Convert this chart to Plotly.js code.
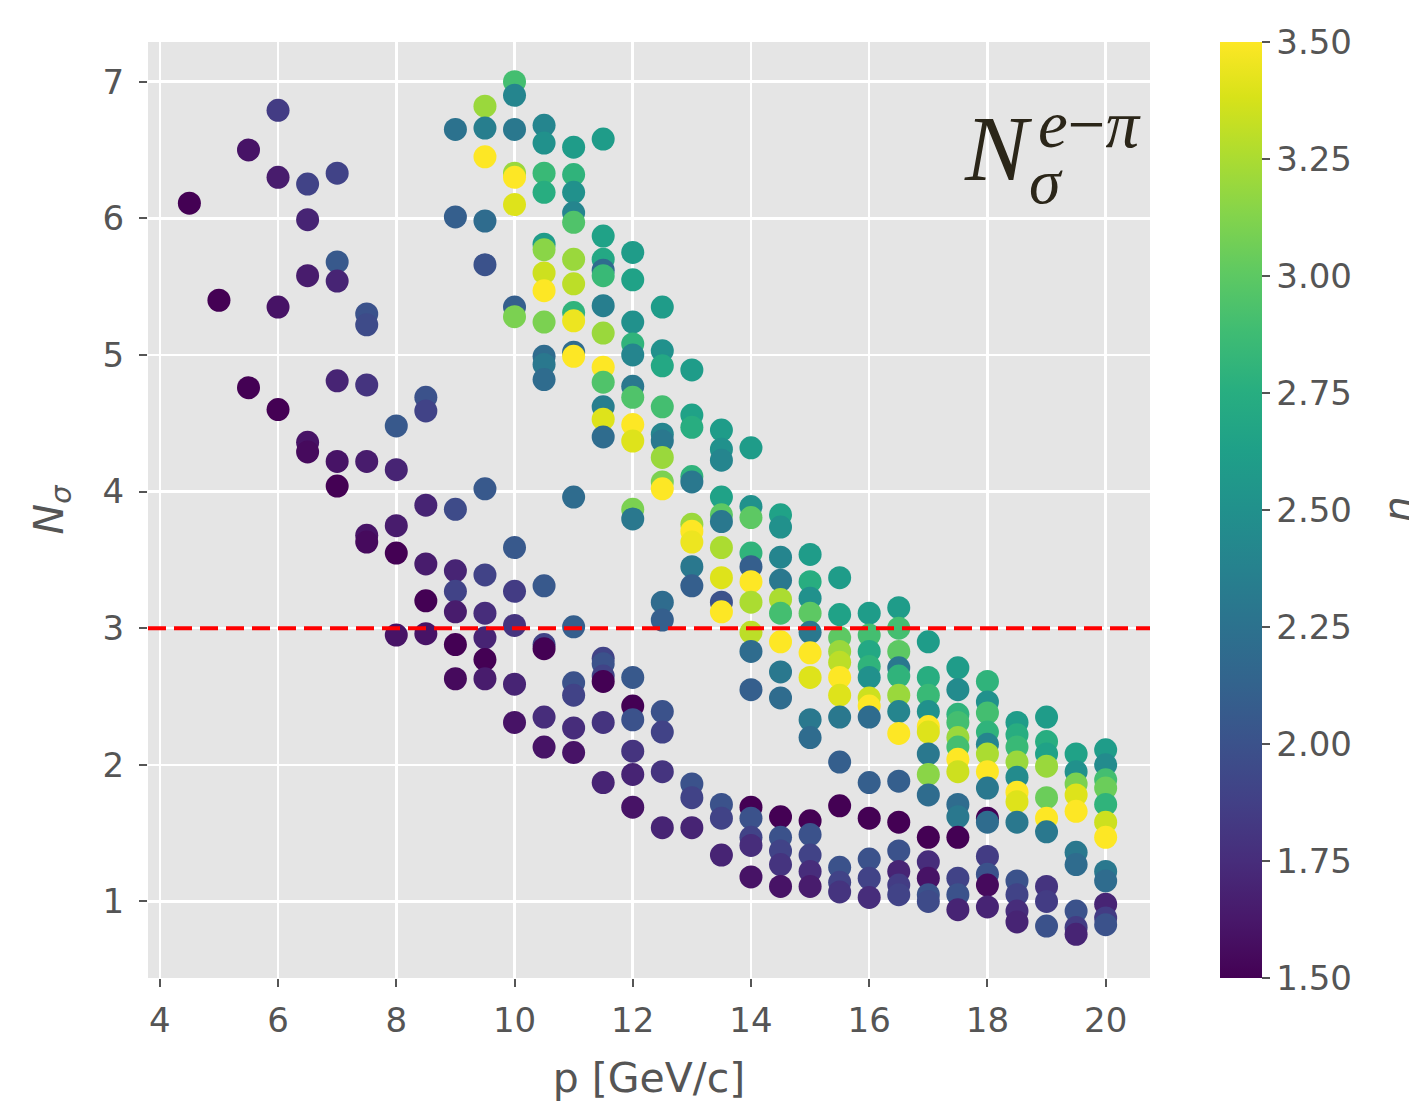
<!DOCTYPE html>
<html>
<head>
<meta charset="utf-8">
<script src="https://cdn.plot.ly/plotly-3.0.1.min.js"></script>
<style>html,body{margin:0;padding:0;background:#fff;}#chart{width:1409px;height:1102px;}</style>
</head>
<body>
<div id="chart"></div>
<script>
// momentum grid (GeV/c)
const pGrid = [4.5,5,5.5,6,6.5,7,7.5,8,8.5,9,9.5,10,10.5,11,11.5,12,12.5,13,13.5,14,14.5,15,15.5,16,16.5,17,17.5,18,18.5,19,19.5,20];

// N_sigma values, one list per momentum
const nSigmaByP = [
  [6.11],
  [5.40],
  [6.50,4.76],
  [6.79,6.30,5.35,4.60],
  [6.25,5.99,5.58,4.36,4.29],
  [6.33,5.68,5.54,4.81,4.22,4.04],
  [5.30,5.22,4.78,4.22,3.68,3.63],
  [4.48,4.16,3.75,3.55,2.95],
  [4.69,4.59,3.90,3.47,3.20,2.96],
  [6.65,6.01,3.87,3.42,3.27,3.12,2.88,2.63],
  [6.82,6.66,6.45,5.98,5.66,4.02,3.39,3.11,2.93,2.77,2.63],
  [7.00,6.90,6.65,6.33,6.30,6.10,5.35,5.28,3.59,3.27,3.02,2.59,2.31],
  [6.68,6.55,6.33,6.19,5.81,5.77,5.60,5.47,5.24,4.99,4.93,4.82,3.31,2.88,2.85,2.35,2.13],
  [6.52,6.32,6.19,6.04,5.97,5.70,5.52,5.31,5.25,5.02,4.99,3.96,3.01,2.60,2.51,2.27,2.09],
  [6.58,5.87,5.70,5.62,5.58,5.36,5.16,4.91,4.80,4.62,4.53,4.40,2.78,2.74,2.65,2.61,2.31,1.87],
  [5.75,5.55,5.24,5.08,5.00,4.77,4.69,4.49,4.37,3.87,3.80,2.64,2.43,2.33,2.10,1.93,1.69],
  [5.35,5.03,4.92,4.62,4.42,4.37,4.25,4.07,4.02,3.19,3.06,2.39,2.24,1.95,1.54],
  [4.89,4.56,4.47,4.11,4.07,3.76,3.71,3.63,3.45,3.31,1.86,1.76,1.54],
  [4.45,4.31,4.23,3.96,3.83,3.78,3.59,3.37,3.19,3.12,1.71,1.61,1.34],
  [4.32,3.89,3.81,3.55,3.45,3.34,3.19,2.97,2.83,2.55,1.69,1.61,1.47,1.41,1.18],
  [3.83,3.74,3.52,3.35,3.21,3.11,2.90,2.68,2.49,1.62,1.47,1.37,1.27,1.11],
  [3.54,3.34,3.22,3.11,2.97,2.82,2.64,2.33,2.20,1.59,1.49,1.34,1.22,1.11],
  [3.37,3.10,2.93,2.83,2.75,2.64,2.51,2.35,2.02,1.70,1.25,1.14,1.07],
  [3.11,2.95,2.83,2.72,2.64,2.49,2.43,2.35,1.87,1.61,1.31,1.17,1.03],
  [3.15,3.00,2.83,2.71,2.65,2.51,2.39,2.23,1.88,1.58,1.37,1.22,1.12,1.05],
  [2.90,2.64,2.51,2.39,2.28,2.24,2.08,1.93,1.78,1.47,1.29,1.17,1.05,1.00],
  [2.71,2.55,2.37,2.31,2.20,2.13,2.04,1.95,1.71,1.62,1.47,1.17,1.05,0.94],
  [2.61,2.46,2.38,2.24,2.15,2.08,1.95,1.83,1.61,1.58,1.33,1.20,1.12,0.96],
  [2.31,2.22,2.13,2.02,1.91,1.80,1.73,1.58,1.15,1.05,0.93,0.85],
  [2.35,2.17,2.08,1.99,1.76,1.61,1.51,1.11,1.00,0.82],
  [2.08,1.95,1.86,1.78,1.66,1.36,1.27,0.93,0.81,0.76],
  [2.11,2.00,1.89,1.83,1.71,1.58,1.47,1.22,1.15,0.98,0.88,0.83]
];

// eta value of each point (colour), same layout as nSigmaByP
const etaByP = [
  [1.5],
  [1.5],
  [1.6,1.5],
  [1.85,1.65,1.6,1.5],
  [1.9,1.7,1.65,1.6,1.55],
  [1.9,2.05,1.7,1.7,1.6,1.5],
  [2.0,1.95,1.8,1.65,1.6,1.55],
  [2.05,1.7,1.65,1.5,1.6],
  [2.0,1.9,1.7,1.65,1.5,1.6],
  [2.25,2.1,1.95,1.7,1.9,1.65,1.5,1.55],
  [3.2,2.35,3.5,2.2,2.0,2.05,1.9,1.75,1.7,1.5,1.65],
  [2.9,2.4,2.3,3.2,3.5,3.4,2.1,3.1,2.05,1.85,1.8,1.7,1.6],
  [2.4,2.5,2.85,2.75,2.6,3.15,3.35,3.5,3.1,2.2,2.3,2.2,2.05,1.9,1.5,1.75,1.6],
  [2.6,2.8,2.5,2.4,2.95,3.2,3.3,2.8,3.45,2.2,3.5,2.2,2.1,2.0,1.9,1.75,1.6],
  [2.6,2.65,2.7,2.2,2.85,2.35,3.2,3.5,2.95,2.35,3.4,2.2,1.9,2.0,1.9,1.5,1.8,1.7],
  [2.6,2.65,2.5,2.8,2.4,2.3,2.95,3.5,3.4,3.1,2.3,2.05,1.5,2.0,1.8,1.7,1.6],
  [2.6,2.5,2.7,2.9,2.4,2.3,3.2,3.1,3.5,2.2,2.1,2.0,1.9,1.8,1.7],
  [2.6,2.65,2.75,2.8,2.3,3.2,3.5,3.45,2.3,2.1,2.0,1.9,1.7],
  [2.6,2.5,2.4,2.65,3.0,2.3,3.25,3.4,2.0,3.5,2.0,1.9,1.7],
  [2.6,2.5,3.0,2.8,2.1,3.5,3.25,3.3,2.2,2.1,1.5,2.0,1.9,1.75,1.6],
  [2.65,2.5,2.4,2.3,3.25,2.9,3.5,2.3,2.2,1.5,2.0,1.9,1.8,1.6],
  [2.6,2.75,2.5,3.0,2.3,3.5,3.4,2.3,2.2,1.5,2.0,1.9,1.75,1.65],
  [2.6,2.65,3.0,3.2,3.3,3.5,3.4,2.3,2.1,1.5,2.0,1.9,1.8],
  [2.6,2.9,2.7,2.8,2.5,3.35,3.5,2.2,2.1,1.5,2.0,1.9,1.75],
  [2.6,2.9,3.0,2.3,2.8,3.2,2.4,3.5,2.1,1.5,2.0,1.7,1.85,1.9],
  [2.6,2.75,2.85,2.5,3.5,3.4,2.3,3.15,2.2,1.5,1.75,1.6,2.0,1.95],
  [2.6,2.45,2.8,2.9,3.2,2.9,3.5,3.35,2.2,2.3,1.5,1.9,2.0,1.7],
  [2.8,2.5,2.9,2.8,2.4,3.25,3.5,2.3,1.5,2.2,1.85,2.0,1.55,1.7],
  [2.6,2.75,2.85,3.2,2.45,3.5,3.4,2.3,2.0,1.9,1.75,1.7],
  [2.6,2.75,2.65,3.2,3.05,3.5,2.3,1.8,1.85,2.0],
  [2.65,2.5,3.1,3.4,3.5,2.3,2.2,2.0,1.85,1.7],
  [2.6,2.45,2.9,3.05,2.8,3.35,3.5,2.3,2.2,1.7,1.85,2.0]
];

const xTicks = [4,6,8,10,12,14,16,18,20];
const yTicks = [1,2,3,4,5,6,7];
const cbTicks = [1.5,1.75,2.0,2.25,2.5,2.75,3.0,3.25,3.5];
const threshold = 3;

const xs = [], ys = [], cs = [];
pGrid.forEach((p, i) => {
  nSigmaByP[i].forEach((n, j) => {
    xs.push(p); ys.push(n); cs.push(etaByP[i][j]);
  });
});

const W = 1409, H = 1102;
const L = 148, R = 1150, T = 42, B = 978;
const px = v => (v - L) / (R - L);
const py = v => (B - v) / (B - T);

const tickFont = {family: 'DejaVu Sans', size: 34, color: '#555555'};
const labelFont = {family: 'DejaVu Sans', size: 41, color: '#555555'};
const mathColor = '#2b2619';

const trace = {
  type: 'scatter',
  mode: 'markers',
  x: xs, y: ys,
  marker: {
    size: 23,
    color: cs,
    colorscale: 'Viridis',
    cmin: 1.5, cmax: 3.5,
    line: {width: 0},
    opacity: 1,
    colorbar: {
      x: px(1220), xanchor: 'left', xpad: 0,
      y: 0.5, yanchor: 'middle', ypad: 0,
      len: 1, lenmode: 'fraction',
      thickness: 42, thicknessmode: 'pixels',
      outlinewidth: 0,
      ticks: 'outside', ticklen: 8, tickwidth: 2, tickcolor: '#555555',
      ticklabelstandoff: 5,
      tickvals: cbTicks, tickformat: '.2f',
      tickfont: tickFont
    }
  },
  hoverinfo: 'skip',
  showlegend: false
};

const axisCommon = {
  showgrid: true, gridcolor: '#ffffff', gridwidth: 2.5,
  zeroline: false, showline: false,
  ticks: 'outside', ticklen: 8, tickwidth: 2, tickcolor: '#555555',
  tickfont: tickFont
};

const layout = {
  width: W, height: H,
  margin: {l: L, r: W - R, t: T, b: H - B, pad: 0},
  paper_bgcolor: '#ffffff',
  plot_bgcolor: '#e5e5e5',
  xaxis: Object.assign({}, axisCommon, {
    range: [3.8, 20.75], tickvals: xTicks, ticklabelstandoff: 4,
    title: {text: 'p [GeV/c]', font: labelFont, standoff: 24}
  }),
  yaxis: Object.assign({}, axisCommon, {
    range: [0.44, 7.29], tickvals: yTicks, ticklabelstandoff: 8,
    title: {text: '<i>N</i><sub><i>σ</i></sub>', font: labelFont, standoff: 26}
  }),
  shapes: [{
    type: 'line', xref: 'paper', x0: 0, x1: 1, yref: 'y', y0: threshold, y1: threshold,
    line: {color: '#ff0000', width: 4, dash: '18px,8px'}, layer: 'above'
  }],
  annotations: [
    {xref: 'paper', yref: 'paper', x: px(998), y: py(148), xanchor: 'center', yanchor: 'middle',
     text: '<i>N</i>', showarrow: false, font: {family: 'Liberation Serif', size: 94, color: mathColor}},
    {xref: 'paper', yref: 'paper', x: px(1036), y: py(124), xanchor: 'left', yanchor: 'middle',
     text: '<i>e</i>−<i>π</i>', showarrow: false, font: {family: 'Liberation Serif', size: 67, color: mathColor}},
    {xref: 'paper', yref: 'paper', x: px(1027), y: py(181), xanchor: 'left', yanchor: 'middle',
     text: '<i>σ</i>', showarrow: false, font: {family: 'Liberation Serif', size: 64, color: mathColor}},
    {xref: 'paper', yref: 'paper', x: px(1398), y: py(510), xanchor: 'center', yanchor: 'middle',
     text: '<i>η</i>', textangle: -90, showarrow: false, font: labelFont}
  ]
};

Plotly.newPlot('chart', [trace], layout, {displayModeBar: false, staticPlot: true});
</script>
</body>
</html>
